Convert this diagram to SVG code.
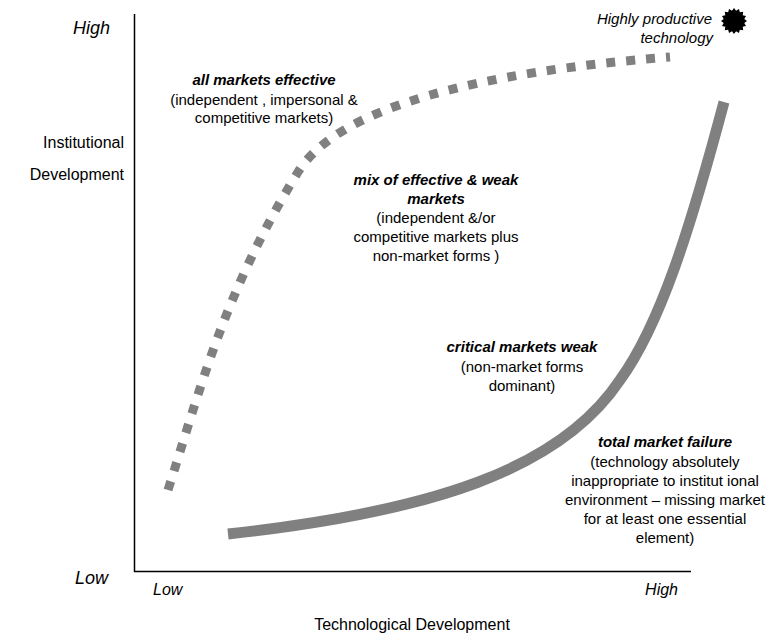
<svg xmlns="http://www.w3.org/2000/svg" width="767" height="644" viewBox="0 0 767 644">
<style>
text{font-family:"Liberation Sans",Arial,sans-serif;fill:#000}
.ax{font-size:16px}
.axi{font-size:16px;font-style:italic}
.axl{font-size:18px;font-style:italic}
.t{font-size:15px;text-anchor:middle}
.h{font-weight:bold;font-style:italic}
.curve{fill:none;stroke:#808080}
</style>
<rect width="767" height="644" fill="#fff"/>
<g id="axes" stroke="#000" stroke-width="1.5" fill="none">
<path d="M134.5,14 V571.5 H691"/>
</g>
<g id="connectors">
<path class="curve" stroke-width="9" stroke-dasharray="9 11" d="M168,490 C200,390 225,290 298,172 C338,107 480,72 670,57"/>
<path class="curve" stroke-width="11" d="M228,534 C430,512 560,470 620,380 C660,325 690,230 724,102"/>
</g>
<g id="y-axis-labels">
<text class="axl" x="110" y="34" text-anchor="end">High</text>
<text class="ax" x="124" y="148" text-anchor="end">Institutional</text>
<text class="ax" x="124" y="180" text-anchor="end">Development</text>
<text class="axl" x="108" y="584" text-anchor="end">Low</text>
</g>
<g id="x-axis-labels">
<text class="axi" x="153" y="595">Low</text>
<text class="axi" x="678" y="595" text-anchor="end">High</text>
<text class="ax" x="412" y="630" text-anchor="middle">Technological Development</text>
</g>
<g id="highly-productive">
<text class="t" x="712" y="24" style="text-anchor:end;font-style:italic">Highly productive</text>
<text class="t" x="713" y="43" style="text-anchor:end;font-style:italic">technology</text>
<polygon transform="translate(734,21)" fill="#000" points="13,0 10.3,2.05 12.01,4.98 8.73,5.84 9.19,9.19 5.84,8.73 4.98,12.01 2.05,10.3 0,13 -2.05,10.3 -4.98,12.01 -5.84,8.73 -9.19,9.19 -8.73,5.84 -12.01,4.98 -10.3,2.05 -13,0 -10.3,-2.05 -12.01,-4.98 -8.73,-5.84 -9.19,-9.19 -5.84,-8.73 -4.98,-12.01 -2.05,-10.3 0,-13 2.05,-10.3 4.98,-12.01 5.84,-8.73 9.19,-9.19 8.73,-5.84 12.01,-4.98 10.3,-2.05"/>
</g>
<g id="all-markets-effective">
<text class="t h" x="264" y="85">all markets effective</text>
<text class="t" x="264" y="105">(independent , impersonal &amp;</text>
<text class="t" x="264" y="123">competitive markets)</text>
</g>
<g id="mix-markets">
<text class="t h" x="436" y="185">mix of effective &amp; weak</text>
<text class="t h" x="436" y="204">markets</text>
<text class="t" x="436" y="223">(independent &amp;/or</text>
<text class="t" x="436" y="242">competitive markets plus</text>
<text class="t" x="436" y="261">non-market forms )</text>
</g>
<g id="critical-markets-weak">
<text class="t h" x="522" y="352">critical markets weak</text>
<text class="t" x="522" y="372">(non-market forms</text>
<text class="t" x="522" y="391">dominant)</text>
</g>
<g id="total-market-failure">
<text class="t h" x="665" y="447">total market failure</text>
<text class="t" x="665" y="467">(technology absolutely</text>
<text class="t" x="665" y="486">inappropriate to institut ional</text>
<text class="t" x="665" y="505">environment – missing market</text>
<text class="t" x="665" y="524">for at least one essential</text>
<text class="t" x="665" y="543">element)</text>
</g>
</svg>
